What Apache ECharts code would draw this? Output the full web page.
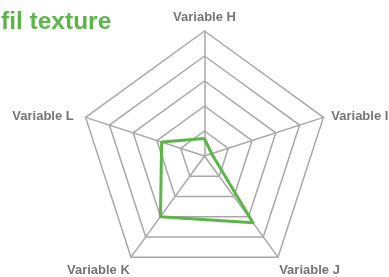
<!DOCTYPE html>
<html>
<head>
<meta charset="utf-8">
<script src="https://cdn.jsdelivr.net/npm/echarts@6/dist/echarts.min.js"></script>
<style>
  html, body { margin: 0; padding: 0; background: #fff; }
  #main { width: 389px; height: 277px; }
</style>
</head>
<body>
<div id="main"></div>
<script>
// 雷达图数据 (顺时针: H 在上, I 在右)
const indicatorNames = ['Variable H', 'Variable I', 'Variable J', 'Variable K', 'Variable L'];
const indicatorMax = [100, 100, 100, 100, 100];
const seriesValues = [14, 6, 66, 60, 36];
const titleText = 'fil texture';

// echarts 雷达图是逆时针排列, 这里换成顺时针
const order = [0, 4, 3, 2, 1];
// 每个标签的位置类型
const namePlace = { 'Variable H': 'top', 'Variable I': 'right', 'Variable J': 'bottom', 'Variable K': 'bottom', 'Variable L': 'left' };

const chart = echarts.init(document.getElementById('main'));

const labelBase = {
  color: '#757575',
  fontSize: 13,
  fontWeight: 'bold',
  fontFamily: 'Liberation Sans'
};

const option = {
  title: {
    text: titleText,
    left: -4,
    top: 5,
    textStyle: {
      color: '#5cb647',
      fontSize: 24.5,
      fontWeight: 'bold',
      fontFamily: 'Liberation Sans'
    }
  },
  radar: {
    center: [204.5, 156],
    radius: 125,
    startAngle: 90,
    shape: 'polygon',
    splitNumber: 5,
    indicator: order.map(i => ({ name: indicatorNames[i], max: indicatorMax[i], min: 0 })),
    nameGap: 2,
    axisName: {
      color: '#757575',
      fontSize: 13,
      fontWeight: 'bold',
      fontFamily: 'Liberation Sans',
      formatter: (name) => '{' + namePlace[name] + '|' + name + '}',
      rich: {
        top: Object.assign({ padding: [0, 0, 5, 0] }, labelBase),
        left: Object.assign({ padding: [0, 10, 0, 0] }, labelBase),
        right: Object.assign({ padding: [0, 0, 0, 6] }, labelBase),
        bottom: Object.assign({ padding: [23, 0, 0, 0] }, labelBase)
      }
    },
    axisLine: {
      lineStyle: { color: '#a8a8a8', width: 1.5 }
    },
    splitLine: {
      lineStyle: { color: '#a8a8a8', width: 1.5 }
    },
    splitArea: { show: false }
  },
  series: [
    {
      type: 'radar',
      symbol: 'none',
      lineStyle: { color: '#5cb647', width: 3 },
      data: [
        { value: order.map(i => seriesValues[i]) }
      ]
    }
  ]
};

chart.setOption(option);
</script>
</body>
</html>
